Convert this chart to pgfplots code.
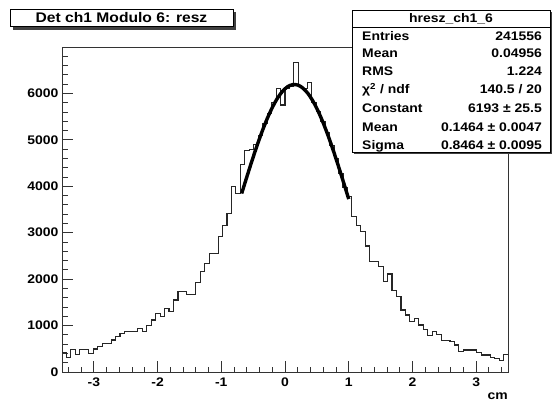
\documentclass[border=0pt]{standalone}
\usepackage{fontspec}
\setmainfont{Liberation Sans}
\newfontfamily\rootfont[FakeStretch=1.12]{Liberation Sans}
\usepackage{pgfplots}
\pgfplotsset{compat=1.18}

\newcommand{\rf}[1]{\rootfont\bfseries\fontsize{#1}{#1}\selectfont}

% histogram hresz_ch1_6: 100 bins of 0.07 cm, left bin edges
\begin{document}
\begin{tikzpicture}[x=1bp,y=1bp]
\path[use as bounding box] (0,0) rectangle (552,402);
\begin{axis}[
    at={(62bp,30bp)}, anchor=south west,
    scale only axis, width=446bp, height=325bp,
    xmin=-3.5, xmax=3.5, ymin=0, ymax=7000,
    axis line style={line width=0.8bp, black!80},
    tick align=inside, xtick pos=bottom, ytick pos=left,
    xtick={-3,-2,-1,0,1,2,3},
    minor xtick={-3.4,-3.2,-2.8,-2.6,-2.4,-2.2,-1.8,-1.6,-1.4,-1.2,-0.8,-0.6,-0.4,-0.2,0.2,0.4,0.6,0.8,1.2,1.4,1.6,1.8,2.2,2.4,2.6,2.8,3.2,3.4},
    ytick={0,1000,...,6000},
    minor ytick={200,400,...,6800},
    major tick length=11bp, minor tick length=5.5bp,
    every tick/.style={black!80, line width=0.8bp},
    ticklabel style={font=\rf{12.5}},
    xticklabel style={yshift=-2.5bp},
    /pgf/number format/assume math mode=true,
    /pgf/number format/1000 sep={},
    scaled y ticks=false,
]
\addplot[const plot, draw=black!85, line width=1.1bp] coordinates {
(-3.50,420) (-3.43,320) (-3.36,490) (-3.29,370) (-3.22,490)
(-3.15,490) (-3.08,400) (-3.01,495) (-2.94,545) (-2.87,615)
(-2.80,615) (-2.73,690) (-2.66,760) (-2.59,830) (-2.52,865)
(-2.45,865) (-2.38,880) (-2.31,940) (-2.24,880) (-2.17,1000)
(-2.10,1120) (-2.03,1260) (-1.96,1190) (-1.89,1370) (-1.82,1300)
(-1.75,1550) (-1.68,1730) (-1.61,1730) (-1.54,1660) (-1.47,1660)
(-1.40,1920) (-1.33,2160) (-1.26,2340) (-1.19,2550) (-1.12,2550)
(-1.05,2910) (-0.98,3160) (-0.91,3410) (-0.84,4000) (-0.77,3840)
(-0.70,4460) (-0.63,4780) (-0.56,4800) (-0.49,4900) (-0.42,5100)
(-0.35,5350) (-0.28,5560) (-0.21,5800) (-0.14,6100) (-0.07,5750)
(0.00,6100) (0.07,6150) (0.14,6660) (0.21,6150) (0.28,6100)
(0.35,6230) (0.42,5800) (0.49,5620) (0.56,5400) (0.63,5150)
(0.70,4880) (0.77,4600) (0.84,4280) (0.91,3980) (0.98,3775)
(1.05,3344) (1.12,3165) (1.19,3021) (1.26,2713) (1.33,2375)
(1.40,2375) (1.47,2268) (1.54,1945) (1.61,2110) (1.68,1765)
(1.75,1622) (1.82,1335) (1.89,1227) (1.96,1084) (2.03,1156)
(2.10,1012) (2.17,920) (2.24,780) (2.31,870) (2.38,810)
(2.45,670) (2.52,670) (2.59,660) (2.66,581) (2.73,450)
(2.80,474) (2.87,474) (2.94,474) (3.01,416) (3.08,366)
(3.15,366) (3.22,316) (3.29,300) (3.36,250) (3.43,380)
(3.50,380)
};
% gaussian fit: Constant 6193, Mean 0.1464, Sigma 0.8464
\addplot[smooth, black, line width=3.4bp] coordinates {
(-0.68,3845) (-0.60,4198) (-0.52,4543) (-0.44,4872) (-0.36,5178)
(-0.28,5455) (-0.20,5695) (-0.12,5894) (-0.04,6044) (0.04,6144)
(0.12,6190) (0.20,6181) (0.28,6116) (0.36,5999) (0.44,5831)
(0.52,5618) (0.60,5364) (0.68,5077) (0.76,4762) (0.84,4427)
(0.92,4079) (1.00,3725)
};
\end{axis}
% x axis title
\node[anchor=base east, inner sep=0, font=\rf{12.5}] at (508,3) {cm};
% title box
\fill[black!75] (13,372.3) rectangle (236,389.7);
\draw[fill=white, line width=0.8] (10,375.3) rectangle (233,392.7);
\node[font=\rf{14}, inner sep=0] at (121.5,384) {Det ch1 Modulo 6: resz};
% stats box
\fill[black!75] (354,248) rectangle (552,390);
\draw[fill=white, line width=0.8] (352,250) rectangle (550,392);
\draw[line width=0.8] (352,374.3) -- (550,374.3);
\node[font=\rf{12.5}, inner sep=0] at (451,383.3) {hresz\_ch1\_6};
\begin{scope}[every node/.style={font=\rf{12.5}, inner sep=0}]
\node[anchor=base west] at (362,361.8) {Entries};
\node[anchor=base east] at (542,361.8) {241556};
\node[anchor=base west] at (362,344.2) {Mean};
\node[anchor=base east] at (542,344.2) {0.04956};
\node[anchor=base west] at (362,326.5) {RMS};
\node[anchor=base east] at (542,326.5) {1.224};
\node[anchor=base west] at (362,308.2) {χ\textsuperscript{2} / ndf};
\node[anchor=base east] at (542,308.2) {140.5 / 20};
\node[anchor=base west] at (362,289.2) {Constant};
\node[anchor=base east] at (542,289.2) {6193 ± 25.5};
\node[anchor=base west] at (362,270.8) {Mean};
\node[anchor=base east] at (542,270.8) {0.1464 ± 0.0047};
\node[anchor=base west] at (362,252.5) {Sigma};
\node[anchor=base east] at (542,252.5) {0.8464 ± 0.0095};
\end{scope}
\end{tikzpicture}
\end{document}
